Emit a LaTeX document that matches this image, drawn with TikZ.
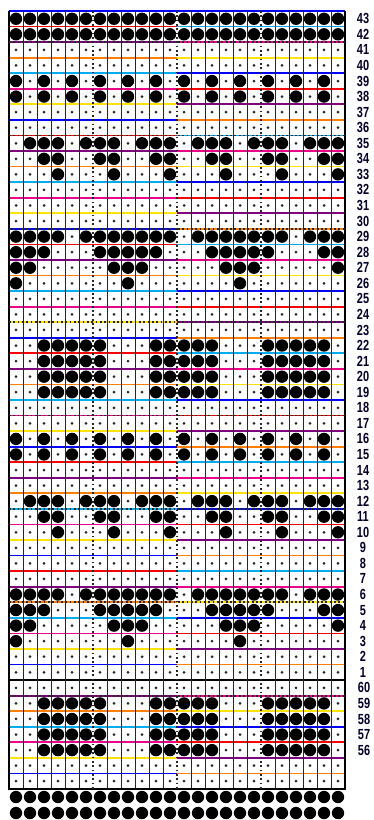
\documentclass[tikz,border=0pt]{standalone}
\usepackage{fontspec}
\setmainfont{Liberation Sans}
\colorlet{hl0}{blue}
\colorlet{hl1}{red}
\colorlet{hl2}{violet}
\colorlet{hl3}{orange}
\colorlet{hl4}{cyan}
\colorlet{hl5}{magenta}
\colorlet{hl6}{yellow!85!orange}
\newcommand{\cx}[1]{2+14*#1}
\newcommand{\ry}[1]{11+15.56*(#1+0.5)}
\newcommand{\punch}[2]{\fill[hole] ({\cx{#2}},{\ry{#1}}) circle[radius=6.2];}
\begin{document}
\begin{tikzpicture}[x=0.03cm,y=-0.03cm,
  every node/.style={font=\fontsize{12.5}{14}\selectfont\bfseries},
  hole/.style={fill=black},
  pin/.style={fill=black!85},
  rule/.style={line width=0.8pt,black!85},
  rowline/.style={line width=1.5pt},
  guide/.style={line width=1.5pt,dash pattern=on 1.5pt off 2.2pt,black!85},
  rowno/.style={inner sep=0pt,anchor=center,text=black!85!blue}]
\useasboundingbox (0,0) rectangle (374,820);
% coloured row rules
\foreach \i [evaluate=\i as \ka using {int(mod(\i,7))},
             evaluate=\i as \kb using {int(mod(\i+3,7))}] in {1,...,49}{
  \draw[rowline,hl\ka] (9,{11+15.56*\i}) -- (177,{11+15.56*\i});
  \draw[rowline,hl\kb] (177,{11+15.56*\i}) -- (345,{11+15.56*\i});
}
\draw[rowline,hl0] (9,11) -- (345,11);
\draw[line width=1.6pt] (9,{11+15.56*43}) -- (345,{11+15.56*43});
% column rules
\foreach \k in {1,...,5,7,8,...,11,13,14,...,17,19,20,...,23}
  \draw[rule] (9+14*\k,11) -- (9+14*\k,789);
\draw[line width=1pt] (9,11) -- (9,789) -- (345,789) -- (345,11);
% dotted guides every 6 cells
\foreach \k in {6,12,18}
  \draw[guide] (9+14*\k,11) -- (9+14*\k,789);
\foreach \i in {2,8,...,44}
  \draw[guide] (9,{11+15.56*\i}) -- (345,{11+15.56*\i});
% feed dots
\foreach \r in {0,...,49}
  \foreach \c in {1,...,24}
    \fill[pin] ({\cx{\c}},{\ry{\r}}) circle[radius=1.5];
% punched holes
\foreach \r in {0,1}
  \foreach \c in {1,...,24} {\punch{\r}{\c}}
\foreach \r in {4,5,27,28}
  \foreach \c in {1,3,...,23} {\punch{\r}{\c}}
\foreach \r in {8,31}
  \foreach \c in {2,3,4,6,7,8,10,11,12,14,15,16,18,19,20,22,23,24} {\punch{\r}{\c}}
\foreach \r in {9,32}
  \foreach \c in {3,4,7,8,11,12,15,16,19,20,23,24} {\punch{\r}{\c}}
\foreach \r in {10,33}
  \foreach \c in {4,8,...,24} {\punch{\r}{\c}}
\foreach \r in {14,37}
  \foreach \c in {1,2,3,4,6,7,8,9,10,11,12,14,15,16,17,18,19,20,22,23,24} {\punch{\r}{\c}}
\foreach \r in {15,38}
  \foreach \c in {1,2,3,7,8,9,10,11,15,16,17,18,19,23,24} {\punch{\r}{\c}}
\foreach \r in {16,39}
  \foreach \c in {1,2,8,9,10,16,17,18,24} {\punch{\r}{\c}}
\foreach \r in {17,40}
  \foreach \c in {1,9,17} {\punch{\r}{\c}}
\foreach \r in {21,22,23,24,44,45,46,47}
  \foreach \c in {3,...,7,11,12,...,15,19,20,...,23} {\punch{\r}{\c}}
% bottom feed holes
\foreach \yy in {797,813}
  \foreach \c in {1,...,24}
    \fill[hole] ({\cx{\c}},\yy) circle[radius=6.2];
% row numbers
\foreach \r [evaluate=\r as \n using {int(43-\r)}] in {0,...,42}
  \node[rowno] (n\r) at (363,{\ry{\r}}) {\scalebox{0.75}[1]{\n}};
\foreach \r [evaluate=\r as \n using {int(103-\r)}] in {43,...,47}
  \node[rowno] (n\r) at (364,{\ry{\r}}) {\scalebox{0.75}[1]{\n}};
\end{tikzpicture}
\end{document}
